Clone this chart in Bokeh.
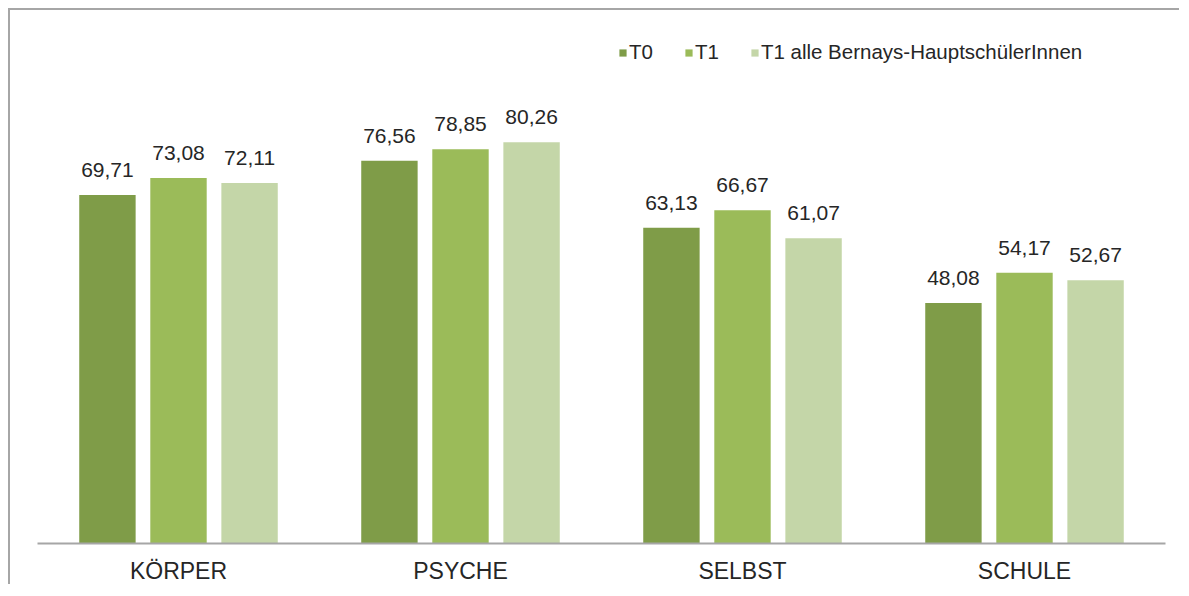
from bokeh.plotting import figure
from bokeh.models import ColumnDataSource, Range1d, Legend, LegendItem
from bokeh.transform import dodge
from bokeh.core.properties import value
from bokeh.embed import file_html
from bokeh.resources import INLINE

categories = ["KÖRPER", "PSYCHE", "SELBST", "SCHULE"]
series_names = ["T0", "T1", "T1 alle Bernays-HauptschülerInnen"]
t0 = [69.71, 76.56, 63.13, 48.08]
t1 = [73.08, 78.85, 66.67, 54.17]
t1_all = [72.11, 80.26, 61.07, 52.67]
colors = ["#7F9C48", "#9BBB59", "#C4D6A8"]

FONT = "Liberation Sans"
TXT = "#262626"

p = figure(x_range=categories, y_range=Range1d(0, 102.6),
           width=1171, height=576, output_backend="svg", toolbar_location=None,
           min_border_left=27, min_border_right=16, min_border_top=20, min_border_bottom=43)
p.x_range.range_padding = 0
p.outline_line_color = None
p.background_fill_color = "white"
p.border_fill_color = "white"
p.styles = {"margin-left": "8px", "margin-top": "8px",
            "border-top": "2px solid #A6A6A6", "border-left": "2px solid #A6A6A6"}

p.yaxis.visible = False
p.xgrid.grid_line_color = None
p.ygrid.grid_line_color = None
p.xaxis.axis_line_color = "#A6A6A6"
p.xaxis.axis_line_width = 2
p.xaxis.major_tick_line_color = None
p.xaxis.minor_tick_line_color = None
p.xaxis.major_tick_out = 0
p.xaxis.major_label_standoff = 14
p.xaxis.major_label_text_font = FONT
p.xaxis.major_label_text_font_size = "23px"
p.xaxis.major_label_text_color = TXT

offsets = [-0.252, 0.0, 0.252]
renderers = []
for vals, col, off in zip([t0, t1, t1_all], colors, offsets):
    src = ColumnDataSource(dict(cat=categories, val=vals,
                                lab=[f"{v:.2f}".replace(".", ",") for v in vals]))
    r = p.vbar(x=dodge("cat", off, range=p.x_range), top="val", width=0.2,
               source=src, fill_color=col, line_color=None)
    renderers.append(r)
    p.text(x=dodge("cat", off, range=p.x_range), y="val", text="lab", source=src,
           text_align="center", text_baseline="middle", y_offset=-25,
           text_font=value(FONT), text_font_size="21px", text_color=TXT)

legend = Legend(items=[LegendItem(label=n, renderers=[r]) for n, r in zip(series_names, renderers)],
                location=(581, 479), orientation="horizontal",
                label_text_font=FONT, label_text_font_size="20.5px", label_text_color=TXT,
                glyph_width=9, glyph_height=9, label_standoff=2, spacing=31,
                padding=0, margin=0, border_line_color=None, background_fill_alpha=0)
p.add_layout(legend)

open("out.html", "w").write(file_html(p, INLINE))
